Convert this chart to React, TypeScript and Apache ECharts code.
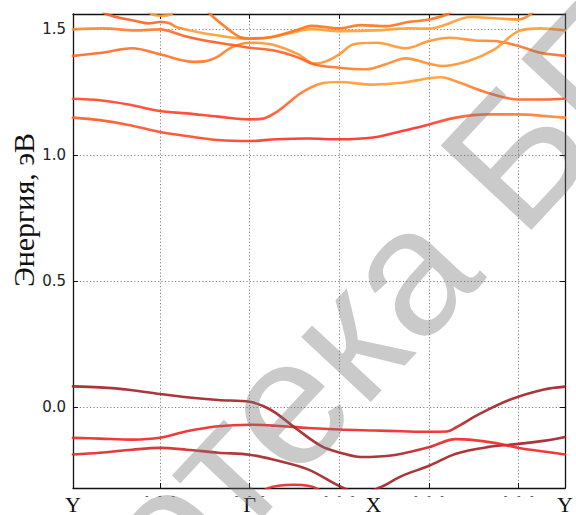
import React, { useEffect, useRef } from 'react';
import * as echarts from 'echarts';

// ---- axes / labels ----
const kMin = 0.031;
const kMax = 5.517;
const eMin = -0.32;
const eMax = 1.56;
const kPathValues = [0.031, 2.0, 3.38, 5.517];
const kPathLabels = ['Y', 'Γ', 'X', 'Y'];
const yTitle = 'Энергия, эВ';
const watermark = 'Библиотека БГУ';

// ---- valence bands [k, E] ----
const bandV1: [number, number][] = [[0.031,0.083],[0.33,0.079],[0.65,0.070],[1.0,0.053],[1.3,0.040],[1.65,0.029],[2.0,0.022],[2.15,0.005],[2.29,-0.022],[2.51,-0.082],[2.8,-0.154],[3.01,-0.180],[3.24,-0.197],[3.6,-0.190],[4.0,-0.158],[4.3,-0.126],[4.45,-0.128],[4.73,-0.141],[5.0,-0.161],[5.3,-0.176],[5.517,-0.187]];
const bandV2: [number, number][] = [[0.031,-0.121],[0.33,-0.124],[0.69,-0.128],[1.0,-0.121],[1.3,-0.095],[1.65,-0.075],[2.0,-0.069],[2.29,-0.073],[2.65,-0.082],[3.0,-0.088],[3.39,-0.092],[3.7,-0.095],[4.0,-0.097],[4.2,-0.096],[4.3,-0.080],[4.55,-0.029],[4.9,0.030],[5.27,0.070],[5.517,0.082]];
const bandV3: [number, number][] = [[0.031,-0.187],[0.33,-0.180],[0.69,-0.168],[1.0,-0.161],[1.3,-0.168],[1.65,-0.180],[2.0,-0.188],[2.26,-0.207],[2.65,-0.246],[3.0,-0.312],[3.23,-0.342],[3.45,-0.318],[3.7,-0.272],[4.0,-0.232],[4.3,-0.184],[4.65,-0.158],[5.0,-0.145],[5.3,-0.132],[5.517,-0.118]];
const bandV4: [number, number][] = [[1.9,-0.42],[2.2,-0.322],[2.5,-0.307],[2.75,-0.322],[3.05,-0.42]];

// ---- conduction bands [k, E] ----
const bandC1: [number, number][] = [[0.031,1.149],[0.33,1.139],[0.65,1.120],[1.0,1.092],[1.3,1.076],[1.65,1.060],[2.0,1.056],[2.3,1.063],[2.65,1.066],[3.0,1.063],[3.375,1.070],[3.7,1.096],[4.0,1.122],[4.3,1.149],[4.65,1.162],[5.0,1.162],[5.3,1.155],[5.517,1.149]];
const bandC2: [number, number][] = [[0.031,1.224],[0.33,1.218],[0.65,1.201],[1.0,1.175],[1.3,1.166],[1.65,1.153],[2.0,1.142],[2.15,1.145],[2.29,1.169],[2.4,1.198],[2.58,1.248],[2.8,1.284],[3.0,1.290],[3.375,1.280],[3.7,1.287],[4.0,1.305],[4.14,1.309],[4.3,1.293],[4.65,1.248],[5.0,1.221],[5.3,1.221],[5.517,1.224]];
const bandC3: [number, number][] = [[0.031,1.394],[0.33,1.405],[0.69,1.424],[1.0,1.400],[1.38,1.370],[1.5,1.372],[1.65,1.392],[1.8,1.428],[2.0,1.446],[2.26,1.438],[2.545,1.400],[2.72,1.363],[2.85,1.372],[3.0,1.400],[3.16,1.440],[3.42,1.446],[3.74,1.424],[4.0,1.453],[4.22,1.466],[4.51,1.455],[4.73,1.453],[5.0,1.433],[5.23,1.407],[5.517,1.394]];
const bandC4: [number, number][] = [[0.031,1.499],[0.36,1.503],[0.73,1.495],[1.0,1.499],[1.27,1.473],[1.53,1.453],[1.82,1.437],[2.0,1.426],[2.26,1.416],[2.545,1.387],[2.72,1.360],[3.0,1.347],[3.3,1.341],[3.52,1.361],[3.74,1.384],[4.0,1.363],[4.14,1.354],[4.44,1.374],[4.73,1.420],[5.0,1.492],[5.24,1.503],[5.517,1.495]];
const bandC5: [number, number][] = [[0.30,1.59],[0.40,1.560],[0.73,1.532],[0.87,1.523],[1.0,1.528],[1.1,1.524],[1.2,1.506],[1.53,1.481],[1.89,1.463],[2.0,1.462],[2.26,1.469],[2.545,1.492],[2.69,1.500],[3.0,1.492],[3.42,1.495],[3.78,1.503],[4.0,1.502],[4.14,1.512],[4.47,1.548],[4.73,1.543],[5.0,1.538],[5.17,1.57]];
const bandC6: [number, number][] = [[1.45,1.61],[1.56,1.560],[1.75,1.503],[1.89,1.469],[2.0,1.463],[2.26,1.470],[2.545,1.499],[2.69,1.513],[3.0,1.503],[3.23,1.516],[3.525,1.512],[3.78,1.529],[4.0,1.538],[4.22,1.562],[4.35,1.60]];
const bandC7: [number, number][] = [[0.7,1.62],[0.9,1.561],[1.01,1.553],[1.13,1.561],[1.35,1.62]];

// ---- colours along k ----
const colV1: [number, string][] = [[0,'#a3232a'],[3.6,'#a82629'],[4.25,'#ee2a2c'],[5.517,'#f0282c']];
const colV2: [number, string][] = [[0,'#f0282c'],[4.15,'#ee2a2c'],[4.45,'#a8262a'],[5.517,'#a3232a']];
const colV3: [number, string][] = [[0,'#e62a2c'],[1.2,'#d42a2c'],[2.0,'#a8262a'],[5.517,'#a3232a']];
const colV4: [number, string][] = [[0,'#e8282c'],[6,'#e8282c']];
const colC1: [number, string][] = [[0,'#ff5f2a'],[1.5,'#ff4a2a'],[2.6,'#ff2f2c'],[3.9,'#ff332c'],[4.6,'#ff7030'],[5.517,'#ff8a33']];
const colC2: [number, string][] = [[0,'#ff4a2e'],[2.0,'#ff3e2e'],[2.45,'#ff6a2c'],[2.85,'#ff9c36'],[4.1,'#ffa036'],[4.7,'#ff7030'],[5.517,'#ff5a2c']];
const colC3: [number, string][] = [[0,'#ff682a'],[1.6,'#ff7a2c'],[2.2,'#ff9634'],[4.3,'#ff9634'],[5.0,'#ff782c'],[5.517,'#ff6a2a']];
const colC4: [number, string][] = [[0,'#ff8c30'],[1.0,'#ff7a2c'],[1.4,'#ff5c24'],[2.6,'#ff6426'],[3.4,'#ff8a30'],[4.6,'#ff9a34'],[5.517,'#ffa036']];
const colC5: [number, string][] = [[0.3,'#ff5a24'],[1.05,'#ff6a26'],[1.35,'#ffa036'],[4.6,'#ffa036'],[5.17,'#ff8030']];
const colC6: [number, string][] = [[0,'#ff7620'],[6,'#ff7620']];
const colC7: [number, string][] = [[0,'#ffa036'],[6,'#ffa036']];

const bands: [[number, number][], [number, string][]][] = [
  [bandV4, colV4], [bandV3, colV3], [bandV2, colV2], [bandV1, colV1],
  [bandC1, colC1], [bandC2, colC2], [bandC3, colC3], [bandC4, colC4],
  [bandC7, colC7], [bandC5, colC5], [bandC6, colC6],
];

export default function App() {
  const ref = useRef<HTMLDivElement>(null);
  useEffect(() => {
    if (!ref.current) return;
    const chart = echarts.init(ref.current, null, { renderer: 'svg' });

    const gradientFor = (data: [number, number][], stops: [number, string][]) => {
      const k0 = Math.min(...data.map((d) => d[0]));
      const k1 = Math.max(...data.map((d) => d[0]));
      const span = k1 - k0 || 1;
      const cs = stops.map(([k, c]) => ({ offset: Math.max(0, Math.min(1, (k - k0) / span)), color: c }));
      return new echarts.graphic.LinearGradient(0, 0, 1, 0, cs);
    };

    const spine = { show: true, onZero: false, lineStyle: { color: '#111', width: 1.3 } };
    const tick = { show: true, inside: true, length: 5, lineStyle: { color: '#111', width: 1 } };
    const dotted = { show: true, lineStyle: { type: [1.2, 2.2], color: '#808080', width: 1 } };

    const option: any = {
      animation: false,
      backgroundColor: '#fff',
      grid: { left: 73, right: 1, top: 14, bottom: 25, containLabel: false },
      xAxis: [
        {
          type: 'value', min: kMin, max: kMax, splitNumber: 5, position: 'bottom',
          axisLine: spine, axisTick: tick, splitLine: dotted,
          axisLabel: {
            show: true, margin: 2, fontSize: 10, color: '#555', fontFamily: 'DejaVu Sans',
            showMinLabel: true, showMaxLabel: true,
            formatter: (v: number) => (Math.abs(v - Math.round(v)) < 1e-6 ? '-   -   -' : ''),
          },
        },
        {
          type: 'value', min: kMin, max: kMax, position: 'bottom',
          axisLine: { show: false }, axisTick: { show: false }, splitLine: { show: false },
          axisLabel: {
            show: true, customValues: kPathValues, margin: 5, fontSize: 22, color: '#111',
            fontFamily: '"Liberation Serif", "DejaVu Serif", serif',
            formatter: (v: number) => {
              const i = kPathValues.findIndex((p) => Math.abs(p - v) < 1e-6);
              return i >= 0 ? kPathLabels[i] : '';
            },
          },
        },
        {
          type: 'value', min: kMin, max: kMax, splitNumber: 5, position: 'top',
          axisLine: spine, axisTick: tick, splitLine: { show: false }, axisLabel: { show: false },
        },
      ],
      yAxis: [
        {
          type: 'value', min: eMin, max: eMax, splitNumber: 4, position: 'left',
          axisLine: spine, axisTick: tick, splitLine: dotted,
          axisLabel: {
            show: true, margin: 7, fontSize: 15, color: '#222', fontFamily: 'DejaVu Sans',
            showMinLabel: false, showMaxLabel: false,
            formatter: (v: number) => (Math.abs(v) < 1e-9 ? 0 : v).toFixed(1),
          },
        },
        {
          type: 'value', min: eMin, max: eMax, splitNumber: 4, position: 'right',
          axisLine: spine, axisTick: tick, splitLine: { show: false }, axisLabel: { show: false },
        },
      ],
      series: bands.map(([data, stops], i) => ({
        type: 'line', data, xAxisIndex: 0, yAxisIndex: 0,
        showSymbol: false, symbol: 'none', smooth: 0.35, clip: true, silent: true,
        z: 2 + i * 0.01,
        lineStyle: { width: 2.6, color: gradientFor(data, stops), cap: 'round', join: 'round', opacity: 0.92 },
      })),
      graphic: [
        {
          type: 'text', x: 23, y: 210, rotation: Math.PI / 2, silent: true,
          style: {
            text: yTitle, font: '30px "Liberation Serif", "DejaVu Serif", serif', fill: '#111',
            textAlign: 'center', textVerticalAlign: 'middle', align: 'center', verticalAlign: 'middle',
          },
        },
        {
          type: 'text', x: -226, y: 950, rotation: (47 * Math.PI) / 180, z: 100, silent: true,
          style: {
            text: watermark, font: '180px "Liberation Sans", Arial, sans-serif', fill: 'rgba(115,115,115,0.38)',
            textAlign: 'left', textVerticalAlign: 'middle', align: 'left', verticalAlign: 'middle',
          },
        },
      ],
    };
    chart.setOption(option);
    return () => chart.dispose();
  }, []);
  return <div ref={ref} style={{ position: 'fixed', left: 0, top: 0, width: 576, height: 515, background: '#fff' }} />;
}
